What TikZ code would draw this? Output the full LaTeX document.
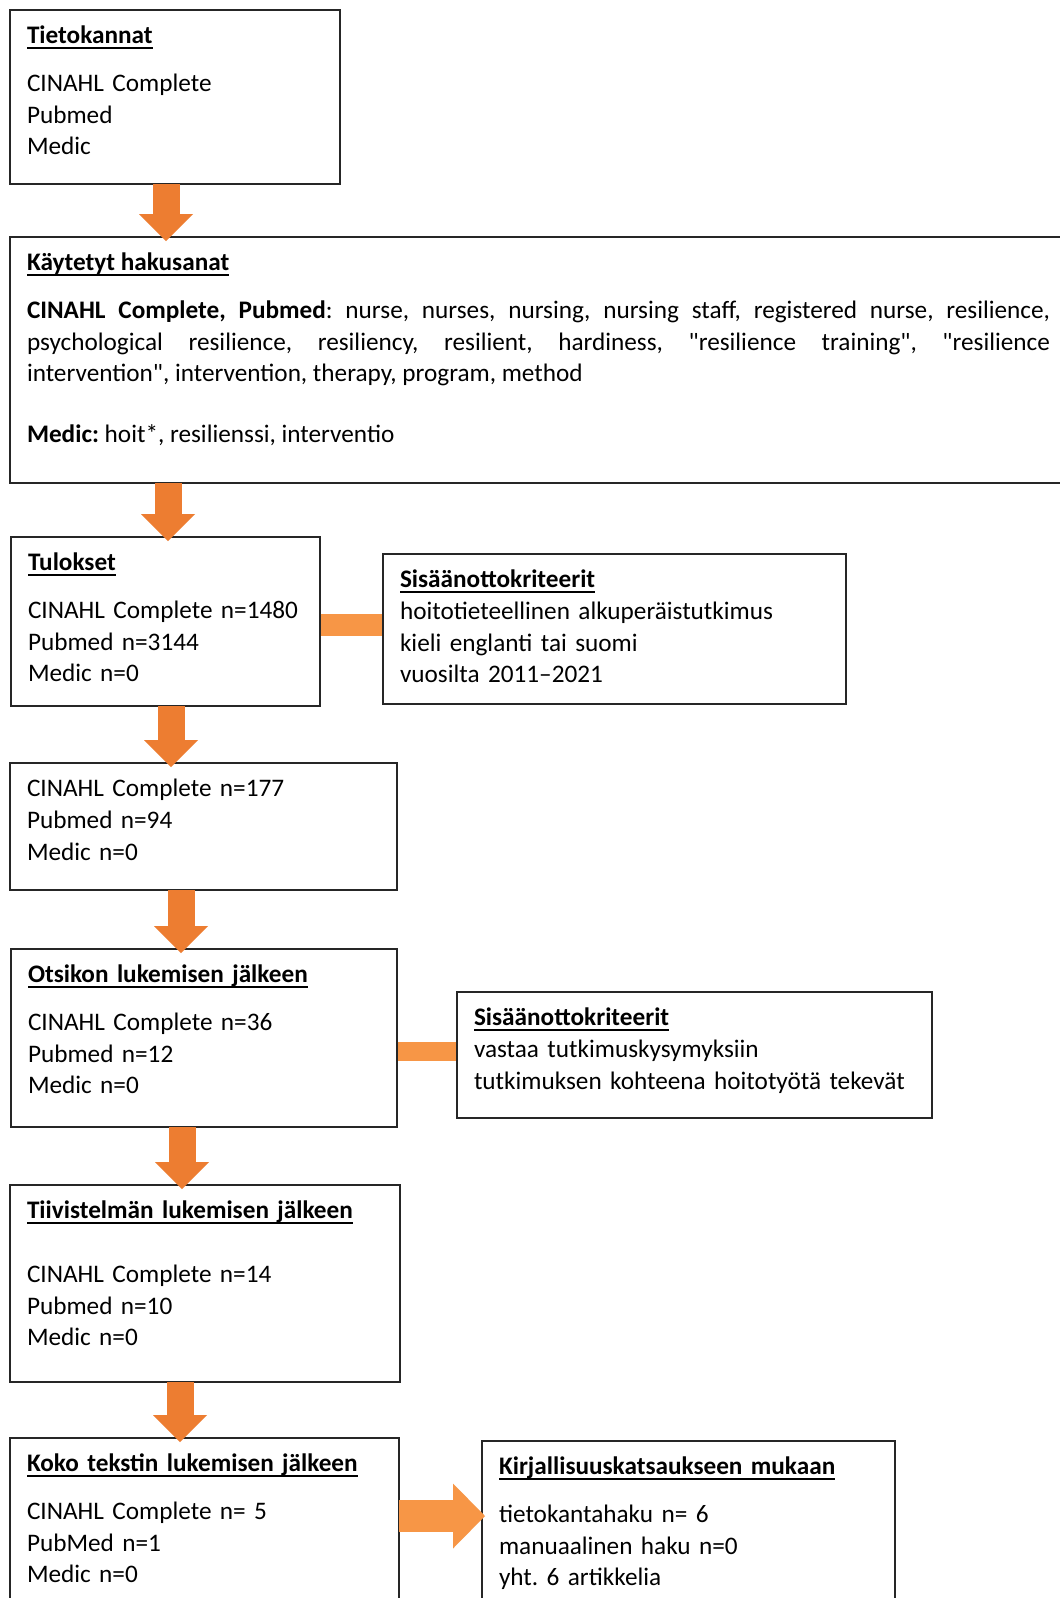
\documentclass[tikz,border=0pt]{standalone}
\usepackage{fontspec}
\setmainfont{Carlito}[Ligatures=TeXOff]
\usepackage{tikz}
\usetikzlibrary{arrows.meta, calc}
\definecolor{floworange}{HTML}{ED7D31}
\definecolor{lightorange}{HTML}{F79646}
\definecolor{boxline}{HTML}{262626}
\frenchspacing
\newcommand{\otsikko}[1]{\setbox0\hbox{\textbf{#1}}\rlap{\rule[-0.125cm]{\wd0}{0.05cm}}\box0}
\tikzset{
  flow/.style={-{Triangle[length=0.675cm, width=1.35cm, line width=0pt]}, line width=0.675cm, floworange},
  sideflow/.style={-{Triangle[length=0.8cm, width=1.625cm, line width=0pt]}, line width=0.8cm, lightorange},
  palkki/.style={line width=0.55cm, lightorange, shorten <=0.5pt, shorten >=0.5pt},
  laatikko/.style={rectangle, draw=boxline, line width=0.9pt, anchor=north west, align=left, inner xsep=0.425cm, inner ysep=0pt, text height=0.84cm, outer sep=0pt},
}
\begin{document}
\begin{tikzpicture}[font={\fontsize{17.95pt}{22.55pt}\selectfont}]
  \useasboundingbox (0,0) rectangle (26.5,-39.95);
  \fill[white] (0,0) rectangle (26.5,-39.95);
  \clip (0,0) rectangle (26.5,-39.95);

  % Main column
  \node[laatikko, text width=7.4cm, text depth=3.51cm] (tk) at (0.25,-0.25) {\otsikko{Tietokannat}\\[0.4cm] CINAHL Complete\\ Pubmed\\ Medic};
  \node[laatikko, align=justify, text width=25.575cm, text depth=5.31cm] (hs) at (0.25,-5.925) {\otsikko{Käytetyt hakusanat}\\[0.4cm]
    \textbf{CINAHL Complete, Pubmed}: nurse, nurses, nursing, nursing staff, registered nurse, resilience,\linebreak
    psychological resilience, resiliency, resilient, hardiness, "resilience training", "resilience\linebreak
    intervention", intervention, therapy, program, method\\[0.73cm]
    \textbf{Medic:} hoit*, resilienssi, interventio};
  \node[laatikko, text width=6.875cm, text depth=3.385cm] (tul) at (0.275,-13.425) {\otsikko{Tulokset}\\[0.4cm] CINAHL Complete n=1480\\ Pubmed n=3144\\ Medic n=0};
  \node[laatikko, text width=8.825cm, text depth=2.335cm] (rj) at (0.25,-19.075) {CINAHL Complete n=177\\ Pubmed n=94\\ Medic n=0};
  \node[laatikko, text width=8.8cm, text depth=3.61cm] (ots) at (0.275,-23.725) {\otsikko{Otsikon lukemisen jälkeen}\\[0.4cm] CINAHL Complete n=36\\ Pubmed n=12\\ Medic n=0};
  \node[laatikko, text width=8.9cm, text depth=4.085cm] (tii) at (0.25,-29.625) {\otsikko{Tiivistelmän lukemisen jälkeen}\\[0.8cm] CINAHL Complete n=14\\ Pubmed n=10\\ Medic n=0};
  \node[laatikko, text width=8.875cm, text depth=4.16cm] (koko) at (0.25,-35.95) {\otsikko{Koko tekstin lukemisen jälkeen}\\[0.4cm] CINAHL Complete n= 5\\ PubMed n=1\\ Medic n=0};

  % Criteria and result boxes
  \node[laatikko, text width=10.725cm, text depth=2.91cm] (kr1) at (9.575,-13.85) {\otsikko{Sisäänottokriteerit}\\ hoitotieteellinen alkuperäistutkimus\\ kieli englanti tai suomi\\ vuosilta 2011–2021};
  \node[laatikko, text width=11.025cm, text depth=2.31cm] (kr2) at (11.425,-24.8) {\otsikko{Sisäänottokriteerit}\\ vastaa tutkimuskysymyksiin\\ tutkimuksen kohteena hoitotyötä tekevät};
  \node[laatikko, text width=9.475cm, text depth=4.16cm] (kirj) at (12.05,-36.025) {\otsikko{Kirjallisuuskatsaukseen mukaan}\\[0.4cm] tietokantahaku n= 6\\ manuaalinen haku n=0\\ yht. 6 artikkelia};

  \foreach \a/\b/\x in {tk/hs/4.15, hs/tul/4.2, tul/rj/4.275, rj/ots/4.525, ots/tii/4.55, tii/koko/4.5} {
    \draw[flow] (\a.south -| \x,0) -- ($(\b.north -| \x,0)+(0,-0.1)$);
  }

  \draw[palkki] (tul.east |- 0,-15.625) -- (kr1.west |- 0,-15.625);
  \draw[palkki, line width=0.475cm] (ots.east |- 0,-26.275) -- (kr2.west |- 0,-26.275);
  \draw[sideflow] (koko.east |- 0,-37.9) -- ($(kirj.west |- 0,-37.9)+(0.075,0)$);
\end{tikzpicture}
\end{document}
